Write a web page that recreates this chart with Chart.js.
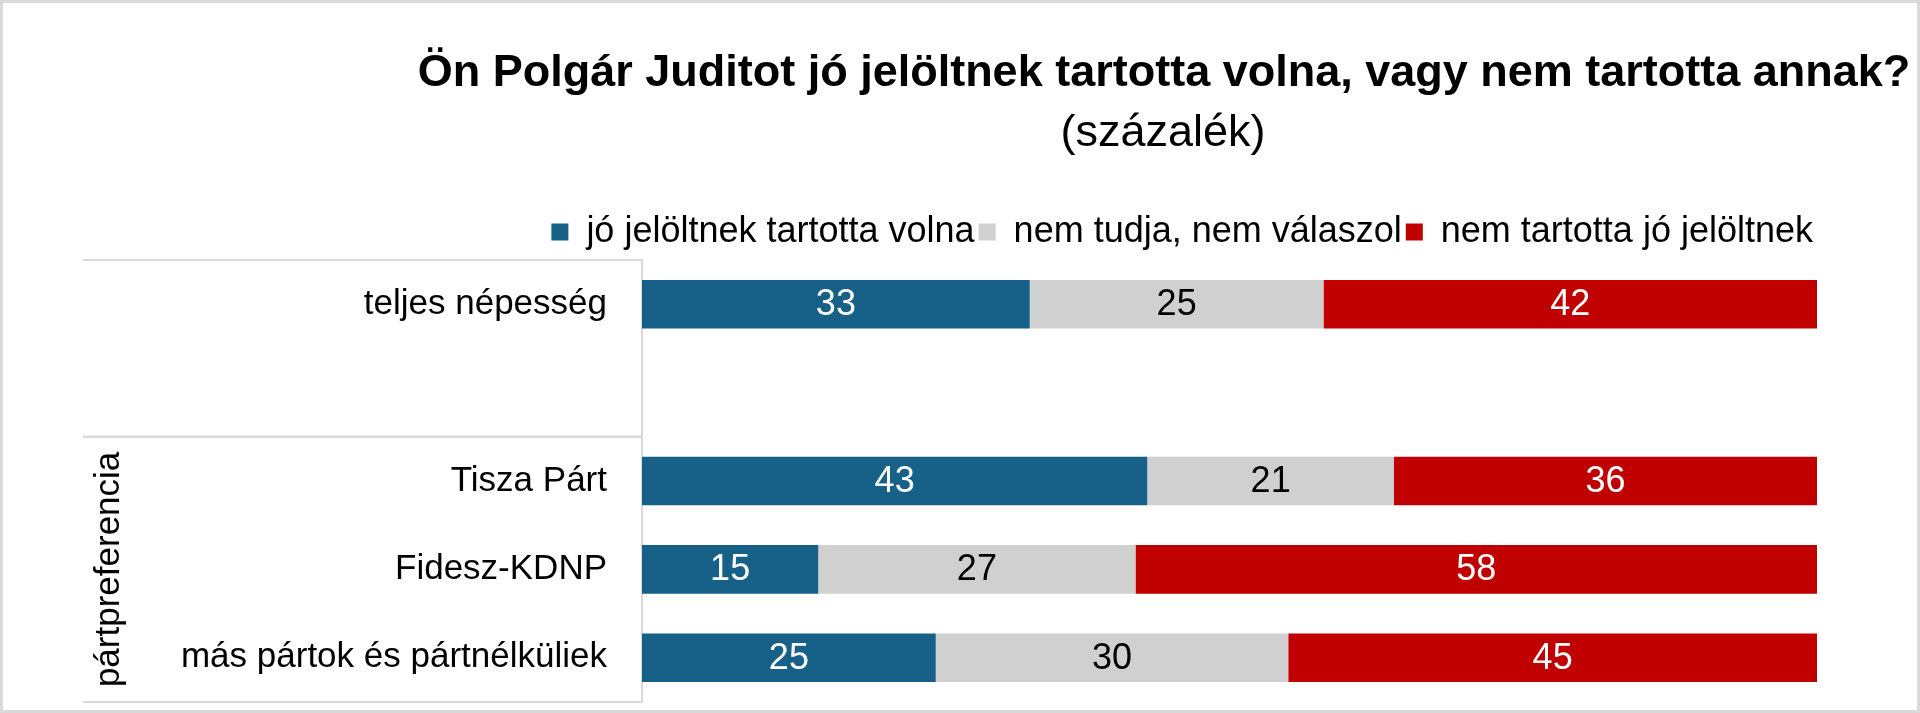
<!DOCTYPE html>
<html>
<head>
<meta charset="utf-8">
<title>Polgár Judit</title>
<script src="https://cdn.jsdelivr.net/npm/chart.js@4.4.1/dist/chart.umd.min.js"></script>
<style>
html, body { margin: 0; padding: 0; background: #fff; }
#wrap { width: 1920px; height: 713px; box-sizing: border-box; border: 3px solid #d9d9d9; background: #fff; overflow: hidden; }
canvas { display: block; }
</style>
</head>
<body>
<div id="wrap"><canvas id="myChart" width="1914" height="707"></canvas></div>
<script>
// data (percent)
const categories = ['teljes népesség', '', 'Tisza Párt', 'Fidesz-KDNP', 'más pártok és pártnélküliek'];
const seriesNames = ['jó jelöltnek tartotta volna', 'nem tudja, nem válaszol', 'nem tartotta jó jelöltnek'];
const joJelolt = [33, null, 43, 15, 25];
const nemTudja = [25, null, 21, 27, 30];
const nemJelolt = [42, null, 36, 58, 45];
const groups = [
    { label: '', from: 0, to: 1 },
    { label: 'pártpreferencia', from: 2, to: 4 }
];
const titleText = 'Ön Polgár Juditot jó jelöltnek tartotta volna, vagy nem tartotta annak?';
const subtitleText = '(százalék)';

const FONT = "'Liberation Sans', Arial, sans-serif";
const LINE = '#d9d9d9';

// title + subtitle, drawn in the top padding
const header = {
    id: 'header',
    afterDraw(chart) {
        const ctx = chart.ctx;
        ctx.save();
        ctx.fillStyle = '#000';
        ctx.textAlign = 'center';
        ctx.textBaseline = 'middle';
        ctx.font = 'bold 45px ' + FONT;
        ctx.fillText(titleText, 1161, 71);
        ctx.font = '45px ' + FONT;
        ctx.fillText(subtitleText, 1160, 131);
        ctx.restore();
    }
};

// group separator lines and the rotated group name
const groupLines = {
    id: 'groupLines',
    afterDraw(chart) {
        const { ctx, chartArea } = chart;
        const y = chart.scales.y;
        const half = (y.getPixelForValue(1) - y.getPixelForValue(0)) / 2;
        ctx.save();
        ctx.strokeStyle = LINE;
        ctx.lineWidth = 2;
        groups.forEach(g => {
            const top = y.getPixelForValue(g.from) - half;
            const bottom = y.getPixelForValue(g.to) + half;
            [top, bottom].forEach(py => {
                ctx.beginPath();
                ctx.moveTo(80, py);
                ctx.lineTo(chartArea.left, py);
                ctx.stroke();
            });
            if (g.label) {
                ctx.save();
                ctx.translate(106, (top + bottom) / 2);
                ctx.rotate(-Math.PI / 2);
                ctx.fillStyle = '#000';
                ctx.font = '35px ' + FONT;
                ctx.textAlign = 'center';
                ctx.textBaseline = 'middle';
                ctx.fillText(g.label, 0, 0);
                ctx.restore();
            }
        });
        ctx.restore();
    }
};

// value labels in the middle of each bar piece
const labelColors = ['#fff', '#000', '#fff'];
const barLabels = {
    id: 'barLabels',
    afterDatasetsDraw(chart) {
        const ctx = chart.ctx;
        ctx.save();
        ctx.font = '36px ' + FONT;
        ctx.textAlign = 'center';
        ctx.textBaseline = 'middle';
        chart.data.datasets.forEach((ds, i) => {
            const meta = chart.getDatasetMeta(i);
            meta.data.forEach((bar, j) => {
                const v = ds.data[j];
                if (v == null) return;
                const p = bar.getCenterPoint();
                ctx.fillStyle = labelColors[i];
                ctx.fillText(String(v), p.x, p.y + 1);
            });
        });
        ctx.restore();
    }
};

const ctx = document.getElementById('myChart').getContext('2d');
const myChart = new Chart(ctx, {
    type: 'bar',
    data: {
        labels: categories,
        datasets: [
            { label: seriesNames[0], data: joJelolt, backgroundColor: '#176087' },
            { label: seriesNames[1], data: nemTudja, backgroundColor: '#d0d0d0' },
            { label: seriesNames[2], data: nemJelolt, backgroundColor: '#c00000' }
        ]
    },
    options: {
        indexAxis: 'y',
        responsive: false,
        devicePixelRatio: 1,
        animation: false,
        barPercentage: 0.55,
        categoryPercentage: 1,
        layout: { padding: { top: 203, right: 100, bottom: 8, left: 0 } },
        scales: {
            x: { stacked: true, min: 0, max: 100, display: false },
            y: {
                stacked: true,
                grid: { display: false, drawTicks: false },
                border: { display: true, color: LINE, width: 2 },
                ticks: { color: '#000', padding: 35, font: { family: FONT, size: 35 } },
                afterFit(scale) {
                    scale.width = 639;
                    // plot starts a little below the legend, nothing reserved at the bottom
                    scale.paddingTop = 257;
                    scale.paddingBottom = 0;
                }
            }
        },
        plugins: {
            legend: {
                position: 'top',
                align: 'end',
                labels: {
                    color: '#000',
                    boxWidth: 17,
                    boxHeight: 17,
                    padding: 4,
                    font: { family: FONT, size: 36 }
                }
            },
            title: { display: false },
            tooltip: { enabled: false }
        }
    },
    plugins: [header, groupLines, barLabels]
});
</script>
</body>
</html>
